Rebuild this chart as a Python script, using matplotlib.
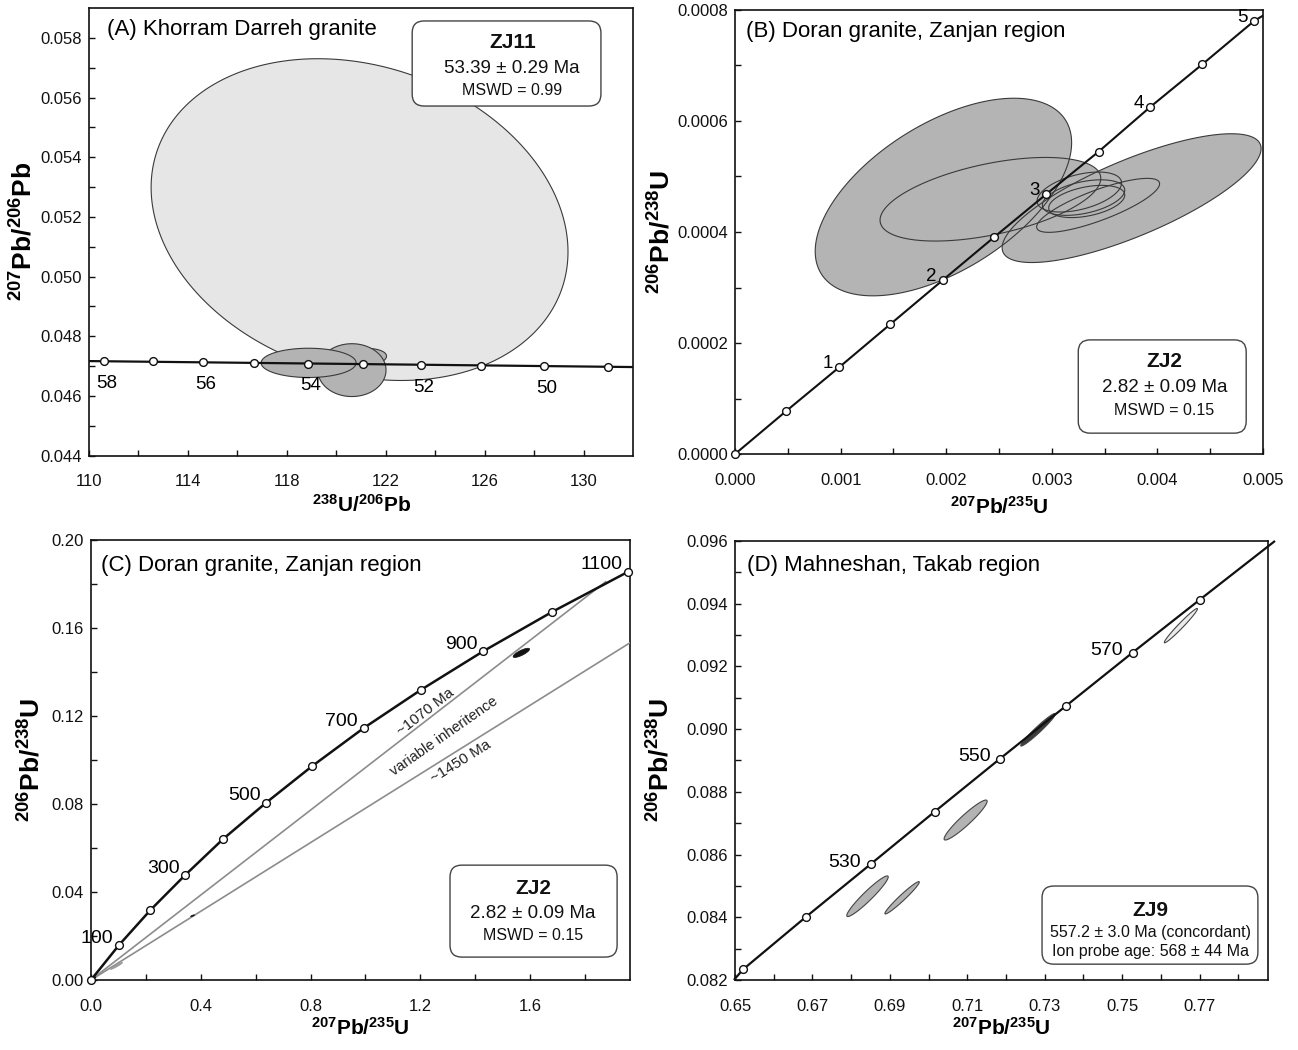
import numpy as np
import matplotlib
matplotlib.use('Agg')
import matplotlib.pyplot as plt
from matplotlib.patches import Polygon, FancyBboxPatch
from matplotlib.ticker import FixedLocator, FormatStrFormatter

plt.rcParams['font.family'] = ['Liberation Sans', 'DejaVu Sans']
plt.rcParams['mathtext.fontset'] = 'custom'
plt.rcParams['mathtext.rm'] = 'Liberation Sans'
plt.rcParams['mathtext.bf'] = 'Liberation Sans:bold'
plt.rcParams['mathtext.it'] = 'Liberation Sans:italic'
plt.rcParams['mathtext.sf'] = 'Liberation Sans'

# ---------------- data ----------------
# (A) Tera-Wasserburg plot, sample ZJ11
a_ages = [58, 57, 56, 55, 54, 53, 52, 51, 50, 49]
a_x = [110.62, 112.59, 114.59, 116.68, 118.85, 121.07, 123.44, 125.86, 128.38, 131.0]
a_y = [0.04717, 0.04716, 0.04714, 0.04711, 0.04708, 0.04706, 0.04703, 0.04701, 0.04700, 0.04698]
a_line_x = [110.0, 132.0]
a_line_y = [0.04717, 0.04697]
a_labelled = [58, 56, 54, 52, 50]
# ellipses: centre x, centre y, half range x, half range y, error correlation
a_ell_cx = [120.94, 120.95, 120.63, 118.88]
a_ell_cy = [0.05191, 0.04727, 0.046867, 0.04711]
a_ell_sx = [8.43, 1.08, 1.38, 1.92]
a_ell_sy = [0.00539, 0.00033, 0.000885, 0.00049]
a_ell_rho = [-0.2, 0.2, 0.0, 0.0]
a_ell_fill = ['#e6e6e6', '#b3b3b3', '#b3b3b3', '#b3b3b3']

# (B) Wetherill concordia, sample ZJ2 (0-5 Ma)
b_ages = [0, 0.5, 1, 1.5, 2, 2.5, 3, 3.5, 4, 4.5, 5]
b_x = [0.0, 0.000486, 0.000984, 0.001471, 0.001965, 0.002455, 0.002946, 0.003444, 0.003930, 0.004424, 0.004914]
b_y = [0.0, 0.0000777, 0.000156, 0.000234, 0.000313, 0.000391, 0.000468, 0.000545, 0.000625, 0.000702, 0.000780]
b_line_end = (0.00500, 0.00079)
b_labelled = [1, 2, 3, 4, 5]
b_ell_cx = [0.001973, 0.002418, 0.003755, 0.003438, 0.00326, 0.00330, 0.00333]
b_ell_cy = [0.000463, 0.000459, 0.000461, 0.000448, 0.000472, 0.000462, 0.000455]
b_ell_sx = [0.001214, 0.001045, 0.001226, 0.000582, 0.00040, 0.00039, 0.00036]
b_ell_sy = [0.000178, 0.0000753, 0.000116, 0.0000486, 0.000036, 0.000032, 0.000029]
b_ell_rho = [0.55, 0.5, 0.77, 0.8, 0.45, 0.42, 0.4]

# (C) Wetherill concordia, sample ZJ2 (0-1100 Ma)
c_ages = [0, 100, 200, 300, 400, 500, 600, 700, 800, 900, 1000, 1100]
c_x = [0.0, 0.1023, 0.2167, 0.3432, 0.4816, 0.6382, 0.8067, 0.9934, 1.2011, 1.4299, 1.6812, 1.9573]
c_y = [0.0, 0.0159, 0.0318, 0.0477, 0.0641, 0.0806, 0.0973, 0.1145, 0.1318, 0.1495, 0.1674, 0.1856]
c_labelled = [100, 300, 500, 700, 900, 1100]
c_chord_1070_x = [0.0, 1.875]
c_chord_1070_y = [0.0, 0.181]
c_chord_1450_x = [0.0, 1.964]
c_chord_1450_y = [0.0, 0.1533]
c_ell_cx = [1.568, 0.370, 0.093, 0.008]
c_ell_cy = [0.1487, 0.0292, 0.0064, 0.0006]
c_ell_sx = [0.030, 0.007, 0.022, 0.010]
c_ell_sy = [0.0021, 0.0004, 0.0016, 0.0008]
c_ell_rho = [0.8, 0.8, 0.95, 0.9]
c_ell_fill = ['#111111', '#111111', '#999999', '#111111']

# (D) Wetherill concordia, sample ZJ9
d_ages = [510, 520, 530, 540, 550, 560, 570, 580]
d_x = [0.6521, 0.6684, 0.6850, 0.7016, 0.7185, 0.7356, 0.7527, 0.7700]
d_y = [0.08234, 0.08402, 0.08569, 0.08737, 0.08906, 0.09075, 0.09244, 0.09412]
d_line_start = (0.6497, 0.08200)
d_line_end = (0.7895, 0.0960)
d_labelled = [530, 550, 570]
d_ell_cx = [0.76519, 0.72829, 0.70957, 0.68422, 0.69316]
d_ell_cy = [0.09330, 0.08998, 0.08710, 0.08467, 0.08462]
d_ell_sx = [0.00428, 0.00449, 0.00556, 0.00535, 0.00444]
d_ell_sy = [0.000547, 0.00052, 0.000637, 0.000648, 0.000515]
d_ell_rho = [0.978, 0.97, 0.94, 0.95, 0.97]
d_ell_fill = ['#ebebeb', '#3c3c3c', '#b3b3b3', '#b3b3b3', '#b3b3b3']

EDGE = '#3a3a3a'


def ellipse_points(cx, cy, sx, sy, rho, n=240):
    t = np.linspace(0, 2 * np.pi, n)
    x = cx + sx * np.cos(t)
    y = cy + sy * (rho * np.cos(t) + np.sqrt(1 - rho ** 2) * np.sin(t))
    return np.column_stack([x, y])


def add_ellipse(ax, cx, cy, sx, sy, rho, fc, ec=EDGE, lw=0.8, z=2, fill=True):
    p = Polygon(ellipse_points(cx, cy, sx, sy, rho), closed=True,
                fc=fc if fill else 'none', ec=ec, lw=lw, zorder=z)
    ax.add_patch(p)


def style_axes(ax, xlim, ylim, xmaj, xmin, ymaj, ymin, xfmt, yfmt):
    ax.set_xlim(*xlim)
    ax.set_ylim(*ylim)
    ax.xaxis.set_major_locator(FixedLocator(xmaj))
    ax.xaxis.set_minor_locator(FixedLocator(xmin))
    ax.yaxis.set_major_locator(FixedLocator(ymaj))
    ax.yaxis.set_minor_locator(FixedLocator(ymin))
    ax.xaxis.set_major_formatter(FormatStrFormatter(xfmt))
    ax.yaxis.set_major_formatter(FormatStrFormatter(yfmt))
    ax.tick_params(which='both', direction='in', length=4, width=1,
                   top=False, right=False, colors='#111111')
    ax.tick_params(axis='x', which='major', pad=13.5, labelsize=12)
    ax.tick_params(axis='y', which='major', pad=5, labelsize=12)
    for s in ax.spines.values():
        s.set_linewidth(1.2)
        s.set_color('#111111')


def set_labels(ax, xl, yl, xpos, ypos):
    ax.set_xlabel(xl, fontsize=15, va='center')
    ax.set_ylabel(yl, fontsize=19, va='center')
    ax.xaxis.set_label_coords(0.5, xpos)
    ax.yaxis.set_label_coords(ypos, 0.5)


def add_box(ax, x0, y0, x1, y1, lines, ax_w, ax_h, tx, ty):
    box = FancyBboxPatch((x0, y0), x1 - x0, y1 - y0,
                         boxstyle='round,pad=0,rounding_size=0.022',
                         mutation_aspect=ax_w / ax_h,
                         transform=ax.transAxes, fc='white', ec='#444444',
                         lw=1.0, zorder=10)
    ax.add_patch(box)
    for (txt, size, weight), y in zip(lines, ty):
        ax.text(tx, y, txt, transform=ax.transAxes, ha='center', va='center',
                fontsize=size, fontweight=weight, zorder=11, color='#111111')


def concordia(ax, lx, ly, mx, my, lw=1.6):
    ax.plot(lx, ly, color='#111111', lw=lw, zorder=5, clip_on=False,
            solid_capstyle='butt')
    ax.plot(mx, my, ls='none', marker='o', ms=5.6, mfc='white', mec='#111111',
            mew=1.0, zorder=6, clip_on=False)


fig = plt.figure(figsize=(12.98, 10.5), dpi=100)

lab_x_tw = r'$^{\mathbf{238}}\mathbf{U/}^{\mathbf{206}}\mathbf{Pb}$'
lab_y_tw = r'$^{\mathbf{207}}\mathbf{Pb/}^{\mathbf{206}}\mathbf{Pb}$'
lab_x_w = r'$^{\mathbf{207}}\mathbf{Pb/}^{\mathbf{235}}\mathbf{U}$'
lab_y_w = r'$^{\mathbf{206}}\mathbf{Pb/}^{\mathbf{238}}\mathbf{U}$'

# ---------------- (A) ----------------
ax = fig.add_axes([0.0686, 0.5660, 0.4191, 0.4264])
style_axes(ax, (110, 132), (0.044, 0.059),
           np.arange(110, 131, 4), np.arange(112, 131, 4),
           np.round(np.arange(0.044, 0.0585, 0.002), 4),
           np.round(np.arange(0.045, 0.0585, 0.002), 4), '%d', '%.3f')
for i in range(len(a_ell_cx)):
    add_ellipse(ax, a_ell_cx[i], a_ell_cy[i], a_ell_sx[i], a_ell_sy[i],
                a_ell_rho[i], a_ell_fill[i], z=2 + i * 0.1)
concordia(ax, a_line_x, a_line_y, a_x, a_y)
for age, x, y in zip(a_ages, a_x, a_y):
    if age in a_labelled:
        ax.annotate(str(age), (x, y), xytext=(2, -16), textcoords='offset points',
                    ha='center', va='center', fontsize=13.5, zorder=7)
ax.text(0.033, 0.951, '(A) Khorram Darreh granite', transform=ax.transAxes,
        ha='left', va='center', fontsize=16)
add_box(ax, 0.594, 0.781, 0.941, 0.971,
        [('ZJ11', 15, 'bold'), ('53.39 \u00b1 0.29 Ma', 13.5, 'normal'),
         ('MSWD = 0.99', 11.5, 'normal')], 544, 447.7, 0.778, [0.923, 0.864, 0.815])
set_labels(ax, lab_x_tw, lab_y_tw, -0.110, -0.121)

# ---------------- (B) ----------------
ax = fig.add_axes([0.5663, 0.5676, 0.4068, 0.4229])
style_axes(ax, (0, 0.005), (0, 0.0008),
           np.round(np.arange(0, 0.0051, 0.001), 4), np.round(np.arange(0.0005, 0.005, 0.001), 5),
           np.round(np.arange(0, 0.00081, 0.0002), 4), np.round(np.arange(0.0001, 0.0008, 0.0002), 5),
           '%.3f', '%.4f')
for i in range(len(b_ell_cx)):
    add_ellipse(ax, b_ell_cx[i], b_ell_cy[i], b_ell_sx[i], b_ell_sy[i], b_ell_rho[i],
                '#b4b4b4', ec='none', z=2)
for i in range(len(b_ell_cx)):
    add_ellipse(ax, b_ell_cx[i], b_ell_cy[i], b_ell_sx[i], b_ell_sy[i], b_ell_rho[i],
                None, z=3, fill=False)
concordia(ax, b_x + [b_line_end[0]], b_y + [b_line_end[1]], b_x, b_y, lw=1.5)
for age, x, y in zip(b_ages, b_x, b_y):
    if age in b_labelled:
        ax.annotate(str(age), (x, y), xytext=(-4.5, 2.5), textcoords='offset points',
                    ha='right', va='center', fontsize=13.5, zorder=7)
ax.text(0.021, 0.951, '(B) Doran granite, Zanjan region', transform=ax.transAxes,
        ha='left', va='center', fontsize=16)
add_box(ax, 0.650, 0.047, 0.968, 0.257,
        [('ZJ2', 15, 'bold'), ('2.82 \u00b1 0.09 Ma', 13.5, 'normal'),
         ('MSWD = 0.15', 11.5, 'normal')], 528, 444, 0.813, [0.208, 0.149, 0.099])
set_labels(ax, lab_x_w, lab_y_w, -0.119, -0.140)

# ---------------- (C) ----------------
ax = fig.add_axes([0.0701, 0.0667, 0.4153, 0.4190])
style_axes(ax, (0, 1.964), (0, 0.2),
           np.round(np.arange(0, 1.61, 0.4), 2), np.round(np.arange(0.2, 1.9, 0.4), 2),
           np.round(np.arange(0, 0.201, 0.04), 2), np.round(np.arange(0.02, 0.19, 0.04), 2),
           '%.1f', '%.2f')
ax.plot(c_chord_1070_x, c_chord_1070_y, color='#8c8c8c', lw=1.2, zorder=3)
ax.plot(c_chord_1450_x, c_chord_1450_y, color='#8c8c8c', lw=1.2, zorder=3)
for i in range(len(c_ell_cx)):
    add_ellipse(ax, c_ell_cx[i], c_ell_cy[i], c_ell_sx[i], c_ell_sy[i], c_ell_rho[i],
                c_ell_fill[i], ec=c_ell_fill[i], lw=0.5, z=4)
concordia(ax, c_x, c_y, c_x, c_y, lw=1.8)
for age, x, y in zip(c_ages, c_x, c_y):
    if age in c_labelled:
        ax.annotate(str(age), (x, y), xytext=(-4, 5), textcoords='offset points',
                    ha='right', va='center', fontsize=14, zorder=7)


def screen_angle(ax, xs, ys):
    p = ax.transData.transform(np.column_stack([xs, ys]))
    return np.degrees(np.arctan2(p[1, 1] - p[0, 1], p[1, 0] - p[0, 0]))


ang1 = screen_angle(ax, c_chord_1070_x, c_chord_1070_y)
ang2 = screen_angle(ax, c_chord_1450_x, c_chord_1450_y)
ax.text(1.219, 0.1220, '~1070 Ma', rotation=ang1, rotation_mode='anchor',
        ha='center', va='center', fontsize=11, color='#222222')
ax.text(1.287, 0.1109, 'variable inheritence', rotation=(ang1 + ang2) / 2,
        rotation_mode='anchor', ha='center', va='center', fontsize=10.5, color='#222222')
ax.text(1.347, 0.0992, '~1450 Ma', rotation=ang2, rotation_mode='anchor',
        ha='center', va='center', fontsize=11, color='#222222')
ax.text(0.019, 0.943, '(C) Doran granite, Zanjan region', transform=ax.transAxes,
        ha='left', va='center', fontsize=16)
add_box(ax, 0.666, 0.052, 0.976, 0.261,
        [('ZJ2', 15, 'bold'), ('2.82 \u00b1 0.09 Ma', 13.5, 'normal'),
         ('MSWD = 0.15', 11.5, 'normal')], 539, 440, 0.820, [0.209, 0.152, 0.100])
set_labels(ax, lab_x_w, lab_y_w, -0.109, -0.111)

# ---------------- (D) ----------------
ax = fig.add_axes([0.5663, 0.0667, 0.4106, 0.4181])
style_axes(ax, (0.65, 0.7877), (0.082, 0.096),
           np.round(np.arange(0.65, 0.771, 0.02), 2), np.round(np.arange(0.66, 0.781, 0.02), 2),
           np.round(np.arange(0.082, 0.0961, 0.002), 3), np.round(np.arange(0.083, 0.0955, 0.002), 3),
           '%.2f', '%.3f')
for i in range(len(d_ell_cx)):
    add_ellipse(ax, d_ell_cx[i], d_ell_cy[i], d_ell_sx[i], d_ell_sy[i], d_ell_rho[i],
                d_ell_fill[i], ec='#444444', lw=0.8, z=3)
concordia(ax, [d_line_start[0]] + d_x + [d_line_end[0]],
          [d_line_start[1]] + d_y + [d_line_end[1]], d_x, d_y, lw=1.6)
for age, x, y in zip(d_ages, d_x, d_y):
    if age in d_labelled:
        ax.annotate(str(age), (x, y), xytext=(-7, 1.5), textcoords='offset points',
                    ha='right', va='center', fontsize=14, zorder=7)
ax.text(0.0225, 0.945, '(D) Mahneshan, Takab region', transform=ax.transAxes,
        ha='left', va='center', fontsize=16)
add_box(ax, 0.576, 0.036, 0.981, 0.214,
        [('ZJ9', 15, 'bold'), ('557.2 \u00b1 3.0 Ma (concordant)', 11.5, 'normal'),
         ('Ion probe age: 568 \u00b1 44 Ma', 11.5, 'normal')], 533, 439, 0.779,
        [0.159, 0.107, 0.064])
set_labels(ax, lab_x_w, lab_y_w, -0.109, -0.140)

fig.savefig('out.png', dpi=100)
